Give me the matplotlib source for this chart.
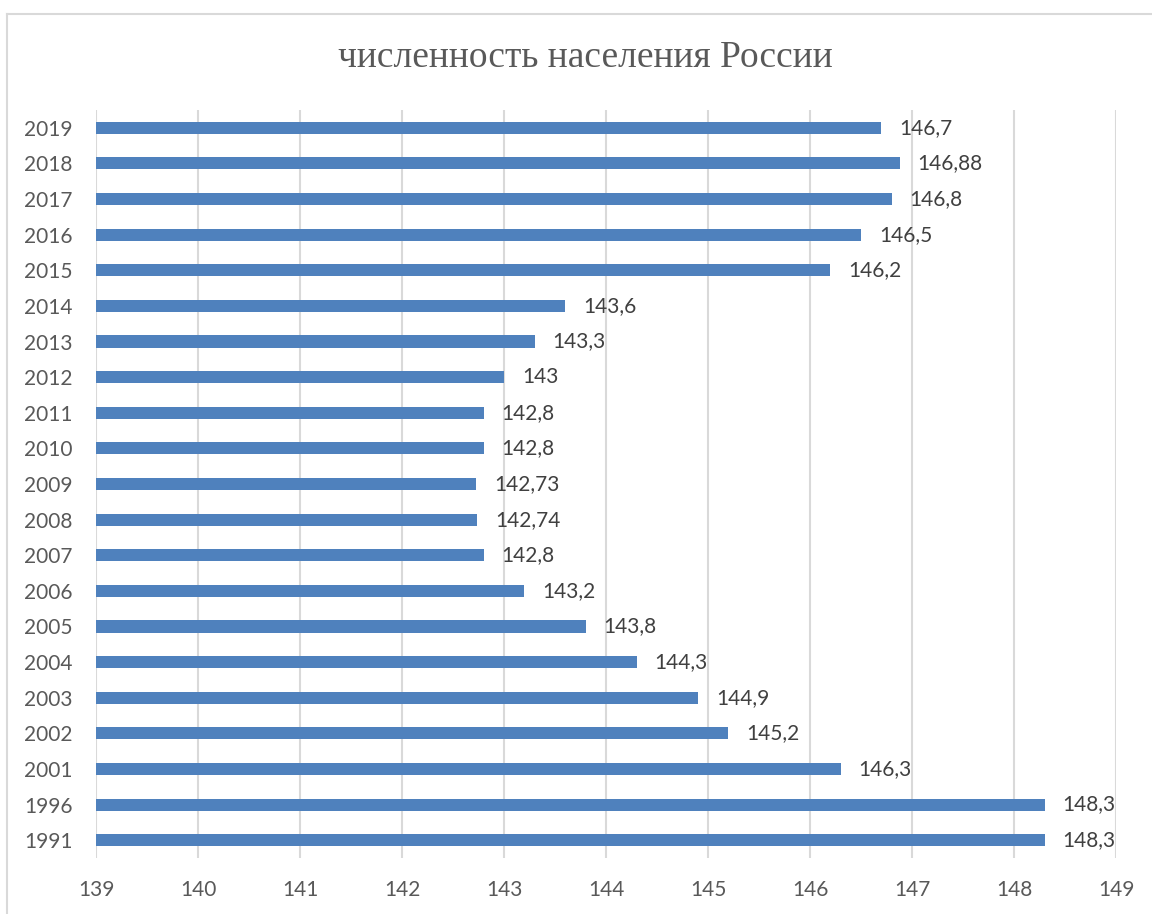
import matplotlib
matplotlib.use("Agg")
import matplotlib.pyplot as plt
from matplotlib.lines import Line2D

# --- data ---
years = ["1991", "1996", "2001", "2002", "2003", "2004", "2005", "2006", "2007",
         "2008", "2009", "2010", "2011", "2012", "2013", "2014", "2015", "2016",
         "2017", "2018", "2019"]
population = [148.3, 148.3, 146.3, 145.2, 144.9, 144.3, 143.8, 143.2, 142.8,
              142.74, 142.73, 142.8, 142.8, 143, 143.3, 143.6, 146.2, 146.5,
              146.8, 146.88, 146.7]
x_ticks = [139, 140, 141, 142, 143, 144, 145, 146, 147, 148, 149]
title = "численность населения России"

# --- style ---
bar_color = "#4F81BD"
grid_color = "#D9D9D9"
text_color = "#595959"
label_color = "#404040"
main_font = ["Lato", "DejaVu Sans"]

fig = plt.figure(figsize=(11.52, 9.14), dpi=100)
ax = fig.add_axes([96 / 1152, 1 - 858 / 914, 1020 / 1152, 748 / 914])

y = list(range(len(years)))
bars = ax.barh(y, population, height=0.34, color=bar_color, zorder=3)

ax.set_xlim(139, 149)
ax.set_ylim(-0.5, len(years) - 0.5)
ax.set_xticks(x_ticks)
ax.set_xticklabels([str(t) for t in x_ticks])
ax.set_yticks(y)
ax.set_yticklabels(years)

for lbl in ax.get_xticklabels() + ax.get_yticklabels():
    lbl.set_family(main_font)
    lbl.set_fontsize(15)
    lbl.set_color(text_color)

ax.tick_params(axis="x", length=0, pad=16)
ax.tick_params(axis="y", length=0, pad=17)
for s in ax.spines.values():
    s.set_visible(False)
ax.xaxis.grid(True, color=grid_color, linewidth=1.5, zorder=0)
ax.set_axisbelow(True)

# data labels with comma decimal
labels = [("{:g}".format(v)).replace(".", ",") for v in population]
for b, txt in zip(bars, labels):
    ax.annotate(txt, (b.get_width(), b.get_y() + b.get_height() / 2),
                xytext=(18, 0), textcoords="offset pixels", va="center",
                ha="left", fontsize=15, color=label_color, family=main_font)

fig.text(0.508, 1 - 58 / 914, title, ha="center", va="center",
         fontsize=27, color=text_color, family="Liberation Serif")

# chart border (partly cropped)
fig.add_artist(Line2D([7 / 1152, 1], [1 - 14 / 914, 1 - 14 / 914],
                      transform=fig.transFigure, color=grid_color, linewidth=1.5))
fig.add_artist(Line2D([7 / 1152, 7 / 1152], [0, 1 - 14 / 914],
                      transform=fig.transFigure, color=grid_color, linewidth=1.5))

fig.savefig("out.png", dpi=100)
